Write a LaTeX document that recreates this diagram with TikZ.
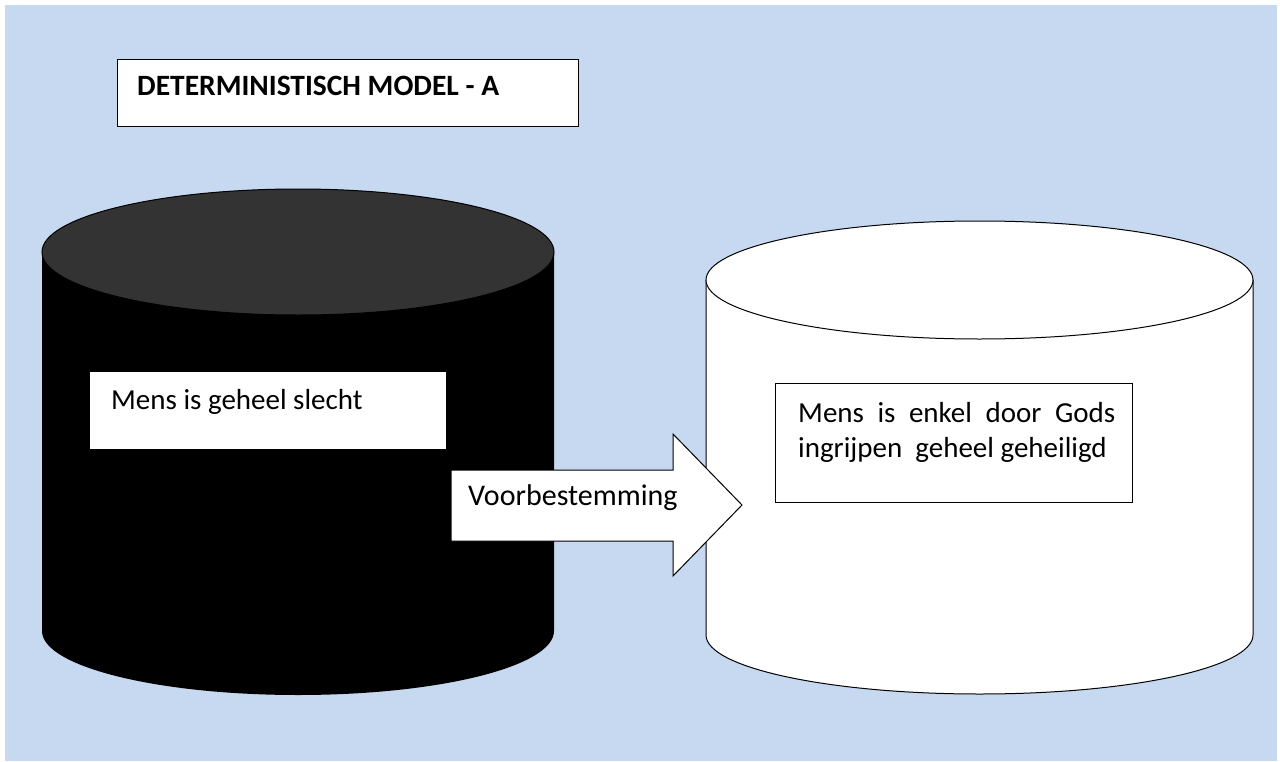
\documentclass[tikz,border=0pt]{standalone}
\usepackage{fontspec}
\setmainfont{Carlito}
\definecolor{bgblue}{HTML}{C6D9F1}
\definecolor{topgray}{HTML}{333333}
\tikzset{
  outline/.style={draw=black, line width=1bp},
  txt/.style={anchor=base west, inner sep=0pt, font=\fontsize{29bp}{35bp}\selectfont},
  boxnode/.style={outline, fill=white, anchor=north west, inner sep=0pt},
}
\begin{document}
\begin{tikzpicture}[x=1bp, y=-1bp]
\useasboundingbox (0,0) rectangle (1280,762);
\fill[white] (0,0) rectangle (1280,762);
\fill[bgblue] (5,5) rectangle (1277,761);

% title
\node[boxnode, minimum width=461bp, minimum height=67bp] (titlebox) at (117,59) {};
\node[txt, font=\fontsize{29.5bp}{35bp}\selectfont\bfseries] (title) at (137,96) {DETERMINISTISCH MODEL - A};

% black cylinder
\fill[black] (42,252) -- (42,631) arc[start angle=180, end angle=360, x radius=256bp, y radius=64bp] -- (554,252) -- cycle;
\draw[outline, fill=topgray] (298,252) ellipse [x radius=256bp, y radius=63bp];
\node[boxnode, minimum width=357bp, minimum height=78bp] (leftbox) at (89,371) {};
\node[txt] (lefttext) at (111,409) {Mens is geheel slecht};

% white cylinder
\draw[outline, fill=white] (706,280) -- (706,635) arc[start angle=180, end angle=360, x radius=273.5bp, y radius=59bp] -- (1253,280) -- cycle;
\draw[outline, fill=white] (979.5,280) ellipse [x radius=273.5bp, y radius=59bp];
\node[boxnode, minimum width=357bp, minimum height=119bp] (rightbox) at (775,383) {};
\node[txt] (rightone) at (798,422) {\makebox[317bp][s]{Mens is enkel door Gods}};
\node[txt] (righttwo) at (798,457) {ingrijpen\ \ geheel geheiligd};

% arrow
\draw[outline, fill=white] (451,470) -- (673,470) -- (673,434) -- (742,505) -- (673,576) -- (673,541) -- (451,541) -- cycle;
\node[txt, font=\fontsize{30bp}{36bp}\selectfont] (arrowtext) at (468,505) {Voorbestemming};
\end{tikzpicture}
\end{document}
